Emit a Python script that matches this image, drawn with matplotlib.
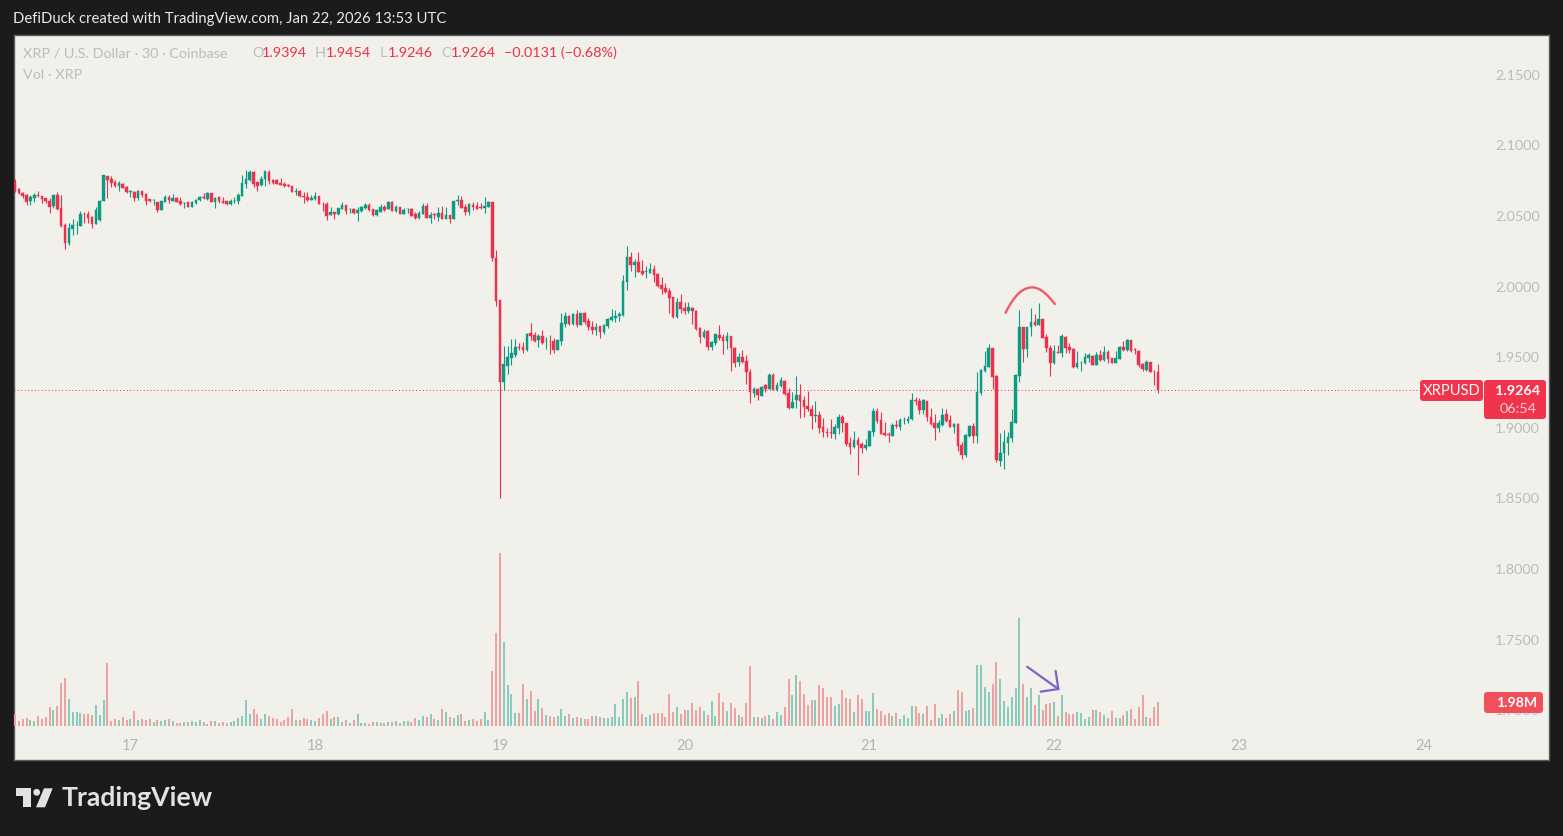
import numpy as np
import matplotlib
matplotlib.use('Agg')
import matplotlib.pyplot as plt
from matplotlib.patches import Polygon, Circle, FancyBboxPatch, PathPatch
from matplotlib.path import Path

# XRP/USD 30 minute candles
opens = [
    2.0738,2.0688,2.0662,2.0648,2.0606,2.0629,2.0648,2.0639,2.0625,2.0608,
    2.0573,2.0648,2.0554,2.0436,2.0311,2.0407,2.0433,2.0431,2.0514,2.0514,
    2.0490,2.0443,2.0471,2.0608,2.0783,2.0762,2.0740,2.0714,2.0726,2.0707,
    2.0667,2.0672,2.0629,2.0674,2.0655,2.0617,2.0613,2.0596,2.0544,2.0601,
    2.0632,2.0608,2.0627,2.0606,2.0592,2.0596,2.0566,2.0589,2.0613,2.0636,
    2.0617,2.0660,2.0601,2.0632,2.0608,2.0606,2.0584,2.0603,2.0608,2.0643,
    2.0726,2.0754,2.0813,2.0738,2.0719,2.0759,2.0813,2.0754,2.0754,2.0733,
    2.0728,2.0721,2.0710,2.0672,2.0677,2.0641,2.0632,2.0615,2.0617,2.0639,
    2.0584,2.0584,2.0509,2.0526,2.0511,2.0549,2.0575,2.0547,2.0547,2.0523,
    2.0537,2.0556,2.0580,2.0547,2.0507,2.0530,2.0566,2.0549,2.0599,2.0535,
    2.0561,2.0516,2.0547,2.0549,2.0514,2.0485,2.0514,2.0570,2.0483,2.0511,
    2.0490,2.0523,2.0478,2.0507,2.0478,2.0608,2.0613,2.0566,2.0528,2.0577,
    2.0570,2.0566,2.0559,2.0563,2.0596,2.0199,1.9904,1.9326,1.9437,1.9496,
    1.9515,1.9571,1.9571,1.9550,1.9668,1.9656,1.9623,1.9649,1.9612,1.9614,
    1.9614,1.9553,1.9616,1.9734,1.9791,1.9734,1.9805,1.9730,1.9815,1.9756,
    1.9711,1.9694,1.9718,1.9678,1.9722,1.9763,1.9774,1.9791,1.9798,2.0034,
    2.0206,2.0154,2.0171,2.0107,2.0100,2.0098,2.0124,2.0086,2.0008,1.9989,
    1.9968,1.9923,1.9781,1.9890,1.9848,1.9826,1.9850,1.9826,1.9704,1.9642,
    1.9682,1.9574,1.9602,1.9656,1.9642,1.9614,1.9647,1.9564,1.9463,1.9503,
    1.9472,1.9392,1.9248,1.9272,1.9227,1.9302,1.9274,1.9373,1.9267,1.9295,
    1.9333,1.9243,1.9142,1.9196,1.9232,1.9196,1.9154,1.9130,1.9085,1.9088,
    1.9003,1.8967,1.8967,1.8956,1.8996,1.9076,1.9031,1.8889,1.8861,1.8913,
    1.8885,1.8859,1.8873,1.8972,1.9121,1.9055,1.8960,1.8953,1.8941,1.9017,
    1.9003,1.9052,1.9050,1.9059,1.9196,1.9189,1.9125,1.9189,1.9073,1.9031,
    1.9000,1.9019,1.9097,1.9055,1.9003,1.9026,1.8875,1.8809,1.8941,1.9012,
    1.8944,1.9244,1.9404,1.9432,1.9562,1.9366,1.8767,1.8819,1.8894,1.8925,
    1.9036,1.9369,1.9716,1.9555,1.9711,1.9749,1.9730,1.9768,1.9640,1.9562,
    1.9456,1.9539,1.9532,1.9645,1.9569,1.9555,1.9428,1.9456,1.9456,1.9494,
    1.9508,1.9447,1.9515,1.9480,1.9539,1.9494,1.9461,1.9489,1.9569,1.9550,
    1.9621,1.9555,1.9546,1.9451,1.9406,1.9463,1.9404,1.9394]
highs = [
    2.0759,2.0695,2.0672,2.0653,2.0648,2.0660,2.0676,2.0641,2.0629,2.0625,
    2.0648,2.0667,2.0648,2.0448,2.0448,2.0476,2.0464,2.0535,2.0530,2.0535,
    2.0500,2.0566,2.0613,2.0790,2.0785,2.0783,2.0754,2.0747,2.0731,2.0712,
    2.0684,2.0677,2.0684,2.0679,2.0660,2.0617,2.0617,2.0601,2.0608,2.0648,
    2.0648,2.0655,2.0632,2.0632,2.0596,2.0601,2.0608,2.0617,2.0641,2.0660,
    2.0667,2.0665,2.0632,2.0641,2.0636,2.0608,2.0617,2.0632,2.0665,2.0790,
    2.0825,2.0825,2.0818,2.0743,2.0783,2.0818,2.0825,2.0761,2.0761,2.0766,
    2.0738,2.0726,2.0712,2.0695,2.0684,2.0667,2.0667,2.0648,2.0667,2.0641,
    2.0601,2.0596,2.0561,2.0530,2.0559,2.0596,2.0577,2.0559,2.0554,2.0566,
    2.0573,2.0589,2.0594,2.0549,2.0549,2.0582,2.0577,2.0606,2.0606,2.0577,
    2.0566,2.0554,2.0554,2.0554,2.0530,2.0537,2.0594,2.0589,2.0526,2.0518,
    2.0566,2.0570,2.0566,2.0507,2.0606,2.0648,2.0641,2.0584,2.0589,2.0596,
    2.0601,2.0589,2.0632,2.0608,2.0601,2.0258,1.9904,1.9579,1.9579,1.9628,
    1.9628,1.9602,1.9609,1.9668,1.9739,1.9680,1.9663,1.9692,1.9640,1.9656,
    1.9633,1.9621,1.9810,1.9817,1.9798,1.9810,1.9833,1.9810,1.9819,1.9774,
    1.9756,1.9739,1.9720,1.9734,1.9779,1.9838,1.9833,1.9822,2.0081,2.0287,
    2.0246,2.0192,2.0242,2.0187,2.0145,2.0169,2.0152,2.0093,2.0069,2.0022,
    1.9987,1.9928,1.9916,1.9947,1.9892,1.9888,1.9857,1.9833,1.9715,1.9697,
    1.9692,1.9616,1.9663,1.9727,1.9663,1.9675,1.9649,1.9569,1.9531,1.9550,
    1.9515,1.9416,1.9286,1.9279,1.9295,1.9309,1.9385,1.9390,1.9326,1.9357,
    1.9338,1.9279,1.9250,1.9366,1.9309,1.9225,1.9262,1.9161,1.9189,1.9121,
    1.9066,1.9000,1.9059,1.9024,1.9097,1.9090,1.9036,1.8937,1.8977,1.8937,
    1.8901,1.8918,1.8977,1.9137,1.9137,1.9109,1.9043,1.8972,1.9036,1.9055,
    1.9066,1.9073,1.9083,1.9248,1.9215,1.9208,1.9203,1.9189,1.9137,1.9097,
    1.9055,1.9137,1.9130,1.9090,1.9031,1.9036,1.8901,1.8953,1.9019,1.9031,
    1.9395,1.9413,1.9546,1.9593,1.9567,1.9373,1.8960,1.8984,1.8972,1.9130,
    1.9378,1.9834,1.9716,1.9716,1.9845,1.9805,1.9881,1.9770,1.9661,1.9586,
    1.9586,1.9586,1.9661,1.9650,1.9598,1.9562,1.9546,1.9473,1.9527,1.9532,
    1.9515,1.9539,1.9550,1.9579,1.9550,1.9496,1.9543,1.9579,1.9614,1.9626,
    1.9621,1.9562,1.9550,1.9456,1.9480,1.9468,1.9409,1.9454]
lows = [
    2.0667,2.0653,2.0625,2.0577,2.0577,2.0601,2.0632,2.0594,2.0589,2.0523,
    2.0559,2.0542,2.0424,2.0264,2.0294,2.0365,2.0372,2.0431,2.0452,2.0452,
    2.0417,2.0443,2.0464,2.0608,2.0625,2.0707,2.0707,2.0677,2.0695,2.0660,
    2.0636,2.0608,2.0613,2.0636,2.0577,2.0601,2.0577,2.0530,2.0542,2.0596,
    2.0594,2.0608,2.0596,2.0577,2.0554,2.0566,2.0566,2.0584,2.0608,2.0617,
    2.0613,2.0596,2.0559,2.0589,2.0589,2.0577,2.0577,2.0594,2.0582,2.0643,
    2.0695,2.0750,2.0702,2.0677,2.0712,2.0712,2.0726,2.0726,2.0724,2.0719,
    2.0707,2.0707,2.0667,2.0648,2.0636,2.0589,2.0608,2.0613,2.0613,2.0584,
    2.0537,2.0471,2.0507,2.0478,2.0507,2.0547,2.0514,2.0518,2.0514,2.0464,
    2.0530,2.0549,2.0537,2.0500,2.0502,2.0526,2.0537,2.0547,2.0535,2.0530,
    2.0511,2.0514,2.0523,2.0500,2.0476,2.0476,2.0511,2.0483,2.0448,2.0478,
    2.0464,2.0476,2.0476,2.0448,2.0476,2.0577,2.0554,2.0507,2.0507,2.0542,
    2.0547,2.0549,2.0523,2.0561,2.0183,1.9862,1.8500,1.9267,1.9380,1.9444,
    1.9498,1.9550,1.9531,1.9543,1.9621,1.9609,1.9574,1.9590,1.9557,1.9522,
    1.9531,1.9550,1.9586,1.9715,1.9730,1.9730,1.9711,1.9727,1.9734,1.9692,
    1.9661,1.9656,1.9638,1.9661,1.9704,1.9756,1.9751,1.9756,1.9791,1.9975,
    2.0110,2.0069,2.0100,2.0081,2.0058,2.0093,2.0029,1.9999,1.9947,1.9951,
    1.9810,1.9774,1.9777,1.9810,1.9805,1.9815,1.9734,1.9692,1.9602,1.9633,
    1.9550,1.9550,1.9586,1.9621,1.9522,1.9557,1.9404,1.9432,1.9437,1.9456,
    1.9309,1.9177,1.9220,1.9196,1.9227,1.9255,1.9274,1.9267,1.9262,1.9291,
    1.9232,1.9132,1.9137,1.9142,1.9071,1.9078,1.9121,1.8990,1.9043,1.8960,
    1.8937,1.8932,1.8929,1.8920,1.8956,1.8972,1.8871,1.8814,1.8854,1.8665,
    1.8823,1.8842,1.8871,1.8941,1.9036,1.8953,1.8941,1.8901,1.8941,1.8996,
    1.8984,1.9026,1.9036,1.9055,1.9161,1.9097,1.9095,1.9050,1.9019,1.8913,
    1.8972,1.9012,1.9043,1.9003,1.8965,1.8837,1.8776,1.8790,1.8937,1.8889,
    1.8890,1.9232,1.9397,1.9428,1.9274,1.8760,1.8729,1.8706,1.8807,1.8897,
    1.9031,1.9326,1.9468,1.9503,1.9650,1.9720,1.9727,1.9633,1.9539,1.9369,
    1.9451,1.9527,1.9499,1.9532,1.9527,1.9421,1.9425,1.9404,1.9451,1.9463,
    1.9442,1.9444,1.9473,1.9475,1.9456,1.9456,1.9456,1.9484,1.9543,1.9546,
    1.9539,1.9522,1.9428,1.9404,1.9404,1.9392,1.9303,1.9246]
closes = [
    2.0684,2.0660,2.0643,2.0601,2.0636,2.0648,2.0641,2.0620,2.0608,2.0566,
    2.0646,2.0547,2.0429,2.0311,2.0412,2.0436,2.0436,2.0511,2.0511,2.0483,
    2.0443,2.0542,2.0608,2.0790,2.0754,2.0736,2.0712,2.0736,2.0700,2.0667,
    2.0677,2.0629,2.0677,2.0648,2.0606,2.0603,2.0615,2.0542,2.0603,2.0632,
    2.0613,2.0629,2.0601,2.0582,2.0594,2.0566,2.0601,2.0613,2.0632,2.0625,
    2.0660,2.0601,2.0625,2.0608,2.0594,2.0584,2.0608,2.0606,2.0648,2.0731,
    2.0762,2.0809,2.0726,2.0712,2.0761,2.0816,2.0750,2.0731,2.0726,2.0719,
    2.0712,2.0712,2.0672,2.0679,2.0641,2.0636,2.0613,2.0627,2.0641,2.0587,
    2.0582,2.0502,2.0528,2.0514,2.0554,2.0580,2.0535,2.0549,2.0523,2.0542,
    2.0563,2.0580,2.0542,2.0507,2.0542,2.0561,2.0542,2.0599,2.0537,2.0566,
    2.0516,2.0542,2.0549,2.0502,2.0483,2.0523,2.0570,2.0488,2.0507,2.0507,
    2.0518,2.0478,2.0507,2.0478,2.0603,2.0613,2.0559,2.0528,2.0582,2.0566,
    2.0551,2.0559,2.0573,2.0601,2.0204,1.9899,1.9326,1.9451,1.9503,1.9527,
    1.9574,1.9567,1.9550,1.9661,1.9652,1.9614,1.9649,1.9597,1.9614,1.9612,
    1.9550,1.9619,1.9739,1.9791,1.9734,1.9805,1.9727,1.9810,1.9746,1.9715,
    1.9692,1.9715,1.9680,1.9727,1.9767,1.9781,1.9791,1.9805,2.0036,2.0206,
    2.0152,2.0173,2.0105,2.0086,2.0107,2.0124,2.0081,2.0003,1.9982,1.9958,
    1.9916,1.9781,1.9890,1.9840,1.9826,1.9852,1.9829,1.9699,1.9645,1.9675,
    1.9574,1.9609,1.9661,1.9635,1.9614,1.9649,1.9562,1.9461,1.9498,1.9463,
    1.9397,1.9255,1.9272,1.9229,1.9291,1.9274,1.9373,1.9267,1.9302,1.9338,
    1.9239,1.9142,1.9180,1.9229,1.9189,1.9149,1.9130,1.9085,1.9090,1.9000,
    1.8967,1.8965,1.8965,1.9003,1.9073,1.9031,1.8885,1.8866,1.8913,1.8878,
    1.8859,1.8878,1.8977,1.9121,1.9048,1.8958,1.8948,1.8946,1.9019,1.9012,
    1.9055,1.9057,1.9059,1.9196,1.9191,1.9125,1.9196,1.9078,1.9026,1.8996,
    1.9031,1.9090,1.9048,1.9007,1.9026,1.8871,1.8807,1.8948,1.9012,1.8941,
    1.9255,1.9409,1.9437,1.9562,1.9362,1.8772,1.8819,1.8897,1.8932,1.9038,
    1.9373,1.9716,1.9555,1.9716,1.9746,1.9730,1.9768,1.9638,1.9567,1.9456,
    1.9543,1.9532,1.9650,1.9562,1.9550,1.9428,1.9456,1.9461,1.9499,1.9515,
    1.9447,1.9515,1.9480,1.9534,1.9489,1.9461,1.9496,1.9574,1.9550,1.9621,
    1.9543,1.9550,1.9444,1.9416,1.9463,1.9397,1.9402,1.9264]
# volume in millions of XRP
volumes = [
    .99,.41,.55,.66,.50,.41,.83,.58,.74,1.57,
    1.32,1.65,3.55,3.96,2.23,1.16,1.16,1.07,.99,.99,
    .91,1.73,.91,2.15,5.20,.41,.58,.50,.74,.50,
    .58,1.24,.50,.58,.50,.58,.33,.50,.41,.50,
    .58,.41,.25,.25,.33,.33,.41,.33,.50,.33,
    .17,.41,.41,.25,.33,.25,.33,.41,.66,.83,
    2.15,.99,1.40,.99,.58,.99,.83,.66,.58,.33,
    .50,.74,1.40,.50,.50,.66,.58,.50,.41,.66,
    .99,1.24,.58,.74,.74,.33,.50,.25,.50,.99,
    .25,.25,.17,.33,.33,.25,.25,.33,.33,.41,
    .22,.41,.41,.33,.66,.50,.83,.74,.99,.58,
    .50,1.40,1.16,.74,.66,.91,.99,.41,.50,.58,
    .41,.58,1.16,.50,4.54,7.67,14.27,6.93,3.38,2.64,
    1.07,1.07,3.47,2.23,2.89,1.24,2.23,1.49,.91,.83,
    .74,.83,1.40,.83,.99,.66,.74,.66,.58,.58,
    .83,.83,.74,.66,.66,.74,1.82,.74,2.23,2.81,
    2.31,2.39,3.71,.99,.74,.91,1.07,1.07,1.07,.74,
    2.64,1.16,1.57,.99,1.32,1.32,1.90,1.32,1.57,1.24,
    .91,2.06,.83,2.72,1.98,1.24,1.90,1.49,.91,.74,
    1.90,4.95,.74,.74,.66,.83,.91,.58,1.16,.91,
    1.57,3.88,2.56,4.21,3.71,2.64,1.73,2.15,2.15,3.38,
    3.14,2.39,2.39,1.65,1.82,2.97,2.31,2.23,1.16,2.56,
    2.23,1.24,1.24,2.72,1.40,1.24,.91,1.07,.83,1.07,
    .58,.91,.66,1.65,1.65,1.07,.99,1.65,.50,1.82,
    .66,.99,.66,.99,1.24,2.97,2.81,1.24,1.32,1.49,
    5.03,5.03,3.22,2.81,3.47,5.28,3.88,2.06,1.57,2.39,
    3.14,8.91,3.47,2.39,3.14,1.73,2.56,1.32,1.82,1.90,
    1.98,.83,2.56,1.16,.99,.99,1.16,1.07,.58,.74,
    1.32,1.32,1.16,.91,.66,1.24,.66,.66,.91,1.24,
    1.40,.58,1.57,2.56,.74,.66,1.57,1.98]

day_ticks = [30, 78, 126, 174, 222, 270, 318, 366]
day_labels = ['17', '18', '19', '20', '21', '22', '23', '24']
price_ticks = [1.70, 1.75, 1.80, 1.85, 1.90, 1.95, 2.00, 2.05, 2.10, 2.15]

W, H = 1563, 836
BG = '#1b1b1b'
PANEL = '#f2f0eb'
RED = '#f0304a'
GREEN = '#0b9a82'
GREY = '#bcbcbc'

plt.rcParams['font.family'] = 'Lato'

opens = np.array(opens)
highs = np.array(highs)
lows = np.array(lows)
closes = np.array(closes)
volumes = np.array(volumes)
idx = np.arange(len(closes))
colors = np.where(closes < opens, RED, GREEN)


def fx(x):
    return x / W


def fy(y):
    return 1 - y / H


fig = plt.figure(figsize=(W / 100, H / 100), dpi=100, facecolor=BG)
ax = fig.add_axes([fx(13.5), fy(760), (1549 - 13.5) / W, (760 - 35) / H])
ax.set_facecolor(PANEL)
ax.set_xlim(-0.39, 398.6)
ax.set_ylim(1.6647, 2.1781)

# volume pane shares the x scale, baseline sits just above the date labels
vax = ax.twinx()
vax.set_ylim(-2.805, 57.0)
vax.patch.set_visible(False)
vax.set_yticks([])
vax.tick_params(length=0)
for s in vax.spines.values():
    s.set_visible(False)
vol_colors = np.where(closes < opens, '#eea29f', '#8acabc')
vax.bar(idx, volumes, width=0.52, color=vol_colors, linewidth=0, zorder=2)

# candles
ax.vlines(idx, lows, highs, colors=colors, linewidth=0.8, zorder=3)
ax.bar(idx, np.abs(closes - opens), bottom=np.minimum(opens, closes), width=0.68,
       color=colors, edgecolor=colors, linewidth=0.3, zorder=4)

# last price line
ax.hlines(closes[-1], -0.39, 365, colors=RED, linewidth=0.7, linestyles=(0, (1, 2.5)), zorder=2)

# hand drawn arc over the high
arc = Path([(257.4, 1.9814), (258.8, 1.9890), (261.0, 1.9994), (264.3, 1.9994),
            (266.5, 1.9994), (268.5, 1.9935), (270.2, 1.9876)],
           [Path.MOVETO, Path.CURVE4, Path.CURVE4, Path.CURVE4,
            Path.CURVE4, Path.CURVE4, Path.CURVE4])
ax.add_patch(PathPatch(arc, fill=False, edgecolor='#ee5b6d', linewidth=1.7, capstyle='round', zorder=6))

ax.set_xticks(day_ticks)
ax.set_xticklabels(day_labels)
ax.set_yticks(price_ticks)
ax.set_yticklabels(['%.4f' % p for p in price_ticks])
ax.yaxis.tick_right()
ax.tick_params(axis='x', length=0, pad=-15, labelsize=10.6, labelcolor='#b4b4b4')
ax.tick_params(axis='y', length=0, pad=-6.5, labelsize=10.4, labelcolor=GREY)
for lab in ax.get_yticklabels():
    lab.set_ha('right')
for s in ax.spines.values():
    s.set_color('#5c5c5c')
    s.set_linewidth(1.0)

# purple arrow at the volume pickup
vax.plot([263.0, 271.1], [4.89, 3.05], color='#7d63c4', linewidth=1.6, solid_capstyle='round', zorder=5)
vax.plot([270.4, 271.1, 266.5], [4.54, 3.05, 2.83], color='#7d63c4', linewidth=1.6,
         solid_capstyle='round', solid_joinstyle='miter', zorder=5)

# top caption and legend
fig.text(fx(13), fy(19), 'DefiDuck created with TradingView.com, Jan 22, 2026 13:53 UTC',
         color='#e8e8e8', fontsize=10.7, va='center', ha='left')

legend_y = fy(53)
legend = [(23, 'XRP / U.S. Dollar · 30 · Coinbase', GREY), (252, 'O', GREY), (262, '%.4f' % opens[-1], RED),
          (315, 'H', GREY), (326, '%.4f' % highs[-1], RED), (380, 'L', GREY), (388, '%.4f' % lows[-1], RED),
          (441, 'C', GREY), (451, '%.4f' % closes[-1], RED), (504, '−0.0131 (−0.68%)', RED)]
for x, s, c in legend:
    fig.text(fx(x), legend_y, s, color=c, fontsize=10.4, va='center', ha='left')
fig.text(fx(23), fy(75), 'Vol · XRP', color=GREY, fontsize=10.4, va='center', ha='left')


def tag(x0, y0, x1, y1, color):
    p = FancyBboxPatch((fx(x0), fy(y1)), (x1 - x0) / W, (y1 - y0) / H,
                       boxstyle='round,pad=0,rounding_size=0.002', transform=fig.transFigure,
                       facecolor=color, edgecolor='none', mutation_aspect=W / H, zorder=2)
    fig.add_artist(p)


# price and volume tags on the right edge
tag(1420, 380, 1483, 401, '#f0344c')
tag(1484, 380, 1546, 419, '#f0344c')
tag(1484, 692, 1543, 713, '#f0505c')
fig.text(fx(1452), fy(391), 'XRPUSD', color='white', fontsize=10.6, va='center', ha='center', zorder=4)
fig.text(fx(1518), fy(391), '%.4f' % closes[-1], color='white', fontsize=10.4, fontweight='bold', va='center', ha='center', zorder=4)
fig.text(fx(1518), fy(409), '06:54', color='#f9cfd3', fontsize=10.4, va='center', ha='center', zorder=4)
fig.text(fx(1517), fy(703), '%.2fM' % volumes[-1], color='white', fontsize=10.2, fontweight='bold',
         va='center', ha='center', zorder=4)

# wordmark in the footer
logo = '#e2e2e2'
fig.add_artist(Polygon([(fx(15.7), fy(788.3)), (fx(30.7), fy(788.3)), (fx(30.7), fy(807.3)),
                        (fx(22.7), fy(807.3)), (fx(22.7), fy(796)), (fx(15.7), fy(796))],
                       closed=True, transform=fig.transFigure, facecolor=logo, edgecolor='none'))
fig.add_artist(Polygon([(fx(44), fy(788.3)), (fx(52.7), fy(788.3)), (fx(45), fy(807.3)), (fx(36), fy(807.3))],
                       closed=True, transform=fig.transFigure, facecolor=logo, edgecolor='none'))
fig.add_artist(Circle((36.7, H - 792.3), 3.4, transform=None, facecolor=logo, edgecolor='none'))
fig.text(fx(62), fy(797.5), 'TradingView', color=logo, fontsize=19.2, family='Lato', fontweight='bold',
         va='center', ha='left')

fig.savefig('out.png', dpi=100, facecolor=BG)
